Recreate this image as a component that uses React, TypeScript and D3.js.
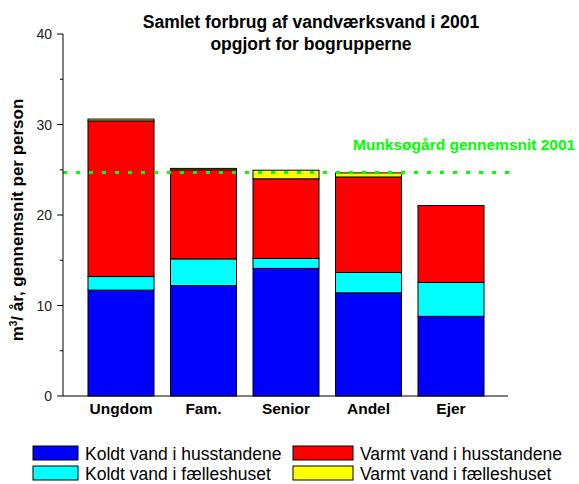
import React from 'react';
import * as d3 from 'd3';

const categories = ['Ungdom', 'Fam.', 'Senior', 'Andel', 'Ejer'];
const koldtHus = [11.7, 12.2, 14.1, 11.4, 8.8];
const koldtFaelles = [1.5, 2.95, 1.1, 2.25, 3.75];
const varmtHus = [17.2, 9.85, 8.8, 10.55, 8.5];
const varmtFaelles = [0.2, 0.15, 0.95, 0.45, 0];
const gennemsnit = 24.7;
const yTicks = [0, 10, 20, 30, 40];
const yMinorTicks = [5, 15, 25, 35];

const seriesNames = [
  'Koldt vand i husstandene',
  'Koldt vand i fælleshuset',
  'Varmt vand i husstandene',
  'Varmt vand i fælleshuset',
];
const seriesColors = ['#0000ff', '#00ffff', '#ff0000', '#ffff00'];

const font = 'Arial, "Liberation Sans", sans-serif';

const App: React.FC = () => {
  const width = 579;
  const height = 484;
  const axisX = 63;

  const y = d3.scaleLinear().domain([0, 40]).range([396, 34]);
  const x = d3.scaleBand<string>().domain(categories).range([71.5, 500.5]).padding(0.2);

  const rows = categories.map((c, i) => ({
    cat: c,
    k: koldtHus[i],
    kf: koldtFaelles[i],
    v: varmtHus[i],
    vf: varmtFaelles[i],
  }));
  const stack = d3.stack<any>().keys(['k', 'kf', 'v', 'vf'])(rows);

  // legend: row 1 husstandene, row 2 fælleshuset
  const legend = [
    { idx: 0, col: 0, row: 0 },
    { idx: 2, col: 1, row: 0 },
    { idx: 1, col: 0, row: 1 },
    { idx: 3, col: 1, row: 1 },
  ];
  const legendCols = [
    { sx: 33, sw: 45, tx: 85 },
    { sx: 293, sw: 60, tx: 360 },
  ];

  return (
    <div style={{ position: 'fixed', left: 0, top: 0 }}>
      <svg width={width} height={height} style={{ display: 'block', background: '#fff' }} fontFamily={font}>
        <text x={311} y={27.5} textAnchor="middle" fontSize={17.5} fontWeight="bold">
          Samlet forbrug af vandværksvand i 2001
        </text>
        <text x={311} y={50} textAnchor="middle" fontSize={17.5} fontWeight="bold">
          opgjort for bogrupperne
        </text>

        {stack.map((layer, li) =>
          layer.map((d, i) =>
            d[1] - d[0] > 0 ? (
              <rect
                key={`${li}-${i}`}
                x={x(categories[i])}
                y={y(d[1])}
                width={x.bandwidth()}
                height={y(d[0]) - y(d[1])}
                fill={seriesColors[li]}
                stroke="#000"
                strokeWidth={1}
              />
            ) : null
          )
        )}

        <line
          x1={axisX}
          x2={510}
          y1={y(gennemsnit)}
          y2={y(gennemsnit)}
          stroke="#00ff00"
          strokeWidth={3}
          strokeDasharray="4,9"
        />
        <text x={353} y={150} fontSize={15.5} fontWeight="bold" fill="#00ff00">
          Munksøgård gennemsnit 2001
        </text>

        {/* axes */}
        <line x1={axisX} x2={axisX} y1={y(40)} y2={y(0)} stroke="#000" strokeWidth={1} />
        <line x1={axisX} x2={508} y1={y(0)} y2={y(0)} stroke="#000" strokeWidth={1} />
        {yTicks.map(t => (
          <g key={t}>
            <line x1={axisX - 6} x2={axisX} y1={y(t)} y2={y(t)} stroke="#000" />
            <text x={52} y={y(t) + 5} textAnchor="end" fontSize={14} fill="#222">
              {t}
            </text>
          </g>
        ))}
        {yMinorTicks.map(t => (
          <line key={t} x1={axisX - 3} x2={axisX} y1={y(t)} y2={y(t)} stroke="#000" />
        ))}

        {categories.map(c => (
          <text
            key={c}
            x={(x(c) as number) + x.bandwidth() / 2}
            y={414}
            textAnchor="middle"
            fontSize={15.5}
            fontWeight="bold"
          >
            {c}
          </text>
        ))}

        <text
          transform="translate(23,220) rotate(-90)"
          textAnchor="middle"
          fontSize={17}
          fontWeight="bold"
        >
          m<tspan dy={-6} fontSize={10}>3</tspan>
          <tspan dy={6}>/ år,  gennemsnit per person</tspan>
        </text>

        {legend.map(l => {
          const c = legendCols[l.col];
          const ly = 446 + l.row * 20;
          return (
            <g key={l.idx}>
              <rect x={c.sx} y={ly} width={c.sw} height={14} fill={seriesColors[l.idx]} stroke="#000" strokeWidth={1} />
              <text x={c.tx} y={ly + 13.5} fontSize={17.5}>
                {seriesNames[l.idx]}
              </text>
            </g>
          );
        })}
      </svg>
    </div>
  );
};

export default App;
